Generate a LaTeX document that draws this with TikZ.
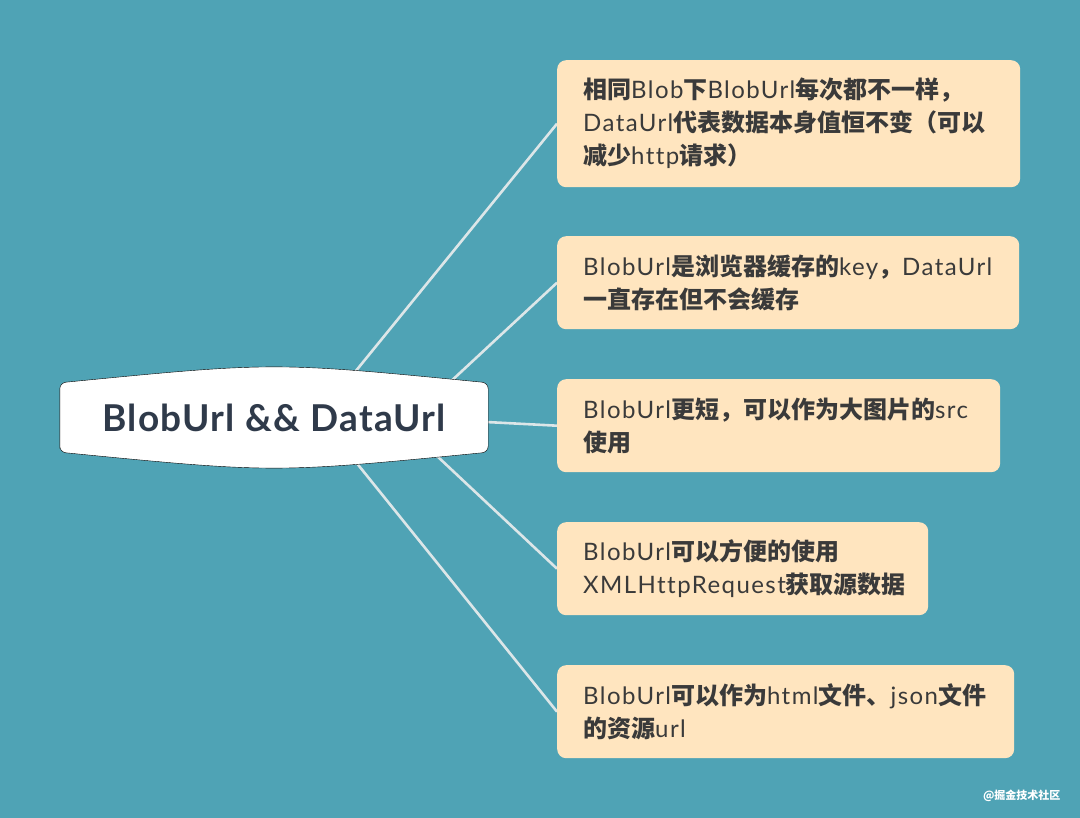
\documentclass[tikz,border=0pt]{standalone}
\usepackage{fontspec}
\setmainfont{Lato}[Ligatures=NoCommon]
\newfontfamily\cjk{Noto Sans CJK SC}
\newcommand{\zh}[1]{{\cjk\bfseries #1}}
\usetikzlibrary{calc}
\pgfdeclarelayer{back}
\pgfdeclarelayer{mid}
\pgfsetlayers{back,mid,main}
\definecolor{bgteal}{HTML}{4FA3B5}
\definecolor{leaffill}{HTML}{FFE5BF}
\definecolor{leafink}{HTML}{3A3A3A}
\definecolor{rootink}{HTML}{2F3A4A}
\definecolor{linkgray}{HTML}{DCE6E8}

\begin{document}
\begin{tikzpicture}[x=1pt, y=-1pt,
  leaf/.style={anchor=north west, fill=leaffill, rounded corners=9pt, inner xsep=26pt, inner ysep=0pt,
    align=left, text=leafink, font=\fontsize{24}{33}\selectfont\addfontfeature{LetterSpace=6}},
  link/.style={draw=linkgray, line width=2.6pt}]
\begin{pgfonlayer}{back}
\fill[bgteal] (0,0) rectangle (1080,818);
\end{pgfonlayer}
\useasboundingbox (0,0) rectangle (1080,818);

\node[minimum width=428pt, minimum height=69pt, inner sep=0pt, text=rootink, font=\fontsize{37}{40}\selectfont\bfseries\addfontfeature{LetterSpace=3.5}] (root) at (274,417.5) {BlobUrl \&\& DataUrl};

\node[leaf, text width=411pt, minimum height=127pt] (same) at (557,60) {\zh{相同}Blob\zh{下}BlobUrl\zh{每次都不一样，}\\DataUrl\zh{代表数据本身值恒不变（可以}\\\zh{减少}ht{}tp\zh{请求）}};
\node[leaf, text width=410pt, minimum height=93pt] (cache) at (557,236) {BlobUrl\zh{是浏览器缓存的}key\zh{，}DataUrl\\\zh{一直存在但不会缓存}};
\node[leaf, text width=391pt, minimum height=93pt] (short) at (557,379) {BlobUrl\zh{更短，可以作为大图片的}src\\\zh{使用}};
\node[leaf, text width=319pt, minimum height=93pt] (xhr) at (557,522) {BlobUrl\zh{可以方便的使用}\\XMLHt{}tpRequest\zh{获取源数据}};
\node[leaf, text width=405pt, minimum height=93pt] (res) at (557,665) {BlobUrl\zh{可以作为}html\zh{文件、}json\zh{文件}\\\zh{的资源}url};

\node[anchor=east, text=white, font=\cjk\fontsize{11}{13}\selectfont\bfseries] (mark) at (1064,796) {@掘金技术社区};

\begin{pgfonlayer}{mid}
\draw[link] ($(root.center)+(44,0)$) -- (same.west);
\draw[link] ($(root.center)+(138,0)$) -- (cache.west);
\draw[link] ($(root.center)+(126,0)$) -- (short.west);
\draw[link] ($(root.center)+(122,0)$) -- (xhr.west);
\draw[link] ($(root.center)+(46,0)$) -- (res.west);
\draw[fill=white, rounded corners=6pt] (root.south west) -- (root.north west)
  .. controls ($(root.north)+(0,-21)$) .. (root.north east) -- (root.south east)
  .. controls ($(root.south)+(0,21)$) .. (root.south west) -- cycle;
\end{pgfonlayer}
\end{tikzpicture}
\end{document}
